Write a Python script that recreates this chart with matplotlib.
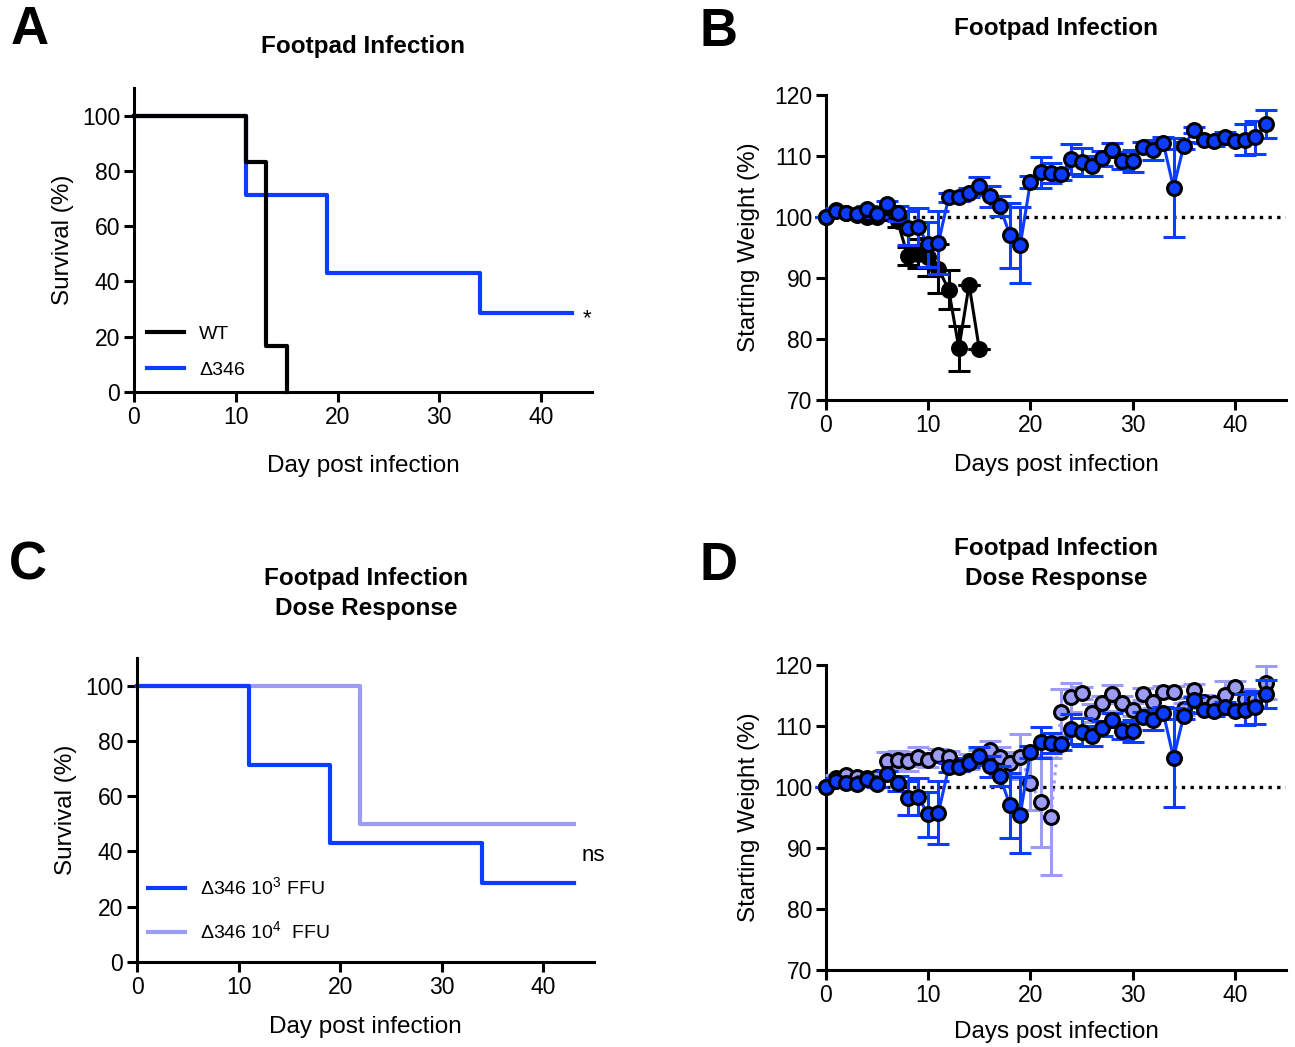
import matplotlib
matplotlib.use("Agg")
import matplotlib.pyplot as plt
from matplotlib.lines import Line2D

plt.rcParams['font.family'] = ['Liberation Sans', 'DejaVu Sans']
plt.rcParams['mathtext.fontset'] = 'custom'
plt.rcParams['mathtext.rm'] = 'Liberation Sans'

BLUE = "#0b3cff"
LIGHT = "#9c9cf5"

# survival (Kaplan-Meier steps)
wt_surv_days = [0, 11, 13, 15]
wt_surv = [100, 83.3, 16.7, 0]
d346_surv_days = [0, 11, 19, 34, 43]
d346_surv = [100, 71.4, 42.9, 28.6, 28.6]
hi_surv_days = [0, 22, 43]
hi_surv = [100, 50, 50]

# weights (% of starting weight)
days = list(range(44))
d346_wt = [100.0, 101.0, 100.6, 100.5, 101.3, 100.5, 102.1, 100.6, 98.2, 98.4,
           95.5, 95.8, 103.2, 103.2, 104.0, 105.1, 103.4, 101.8, 97.0, 95.4,
           105.8, 107.3, 107.2, 107.0, 109.5, 109.0, 108.4, 109.6, 111.0, 109.2,
           109.2, 111.5, 111.0, 112.1, 104.8, 111.7, 114.2, 112.7, 112.5, 113.1,
           112.5, 112.7, 113.1, 115.2]
d346_err = [0, 0.5, 0.4, 0.4, 0.5, 0.5, 0.6, 1.2, 2.8, 3.0,
            3.7, 5.2, 0.8, 0.6, 0.8, 1.5, 1.7, 1.7, 5.3, 6.3,
            1.0, 2.5, 1.7, 1.0, 2.4, 2.3, 1.6, 1.2, 1.2, 1.4,
            1.8, 0.8, 1.6, 1.0, 8.1, 0.6, 0.5, 0.5, 0.8, 0.9,
            0.6, 2.6, 2.7, 2.3]
wt_days = list(range(16))
wt_wt = [100.0, 101.1, 100.6, 100.3, 100.0, 100.0, 101.0, 99.3, 93.6, 94.0,
         93.5, 91.5, 88.1, 78.5, 88.9, 78.3]
wt_err = [0, 0.4, 0.4, 0.4, 0.5, 0.5, 0.5, 1.0, 1.5, 2.4, 3.1, 4.0, 3.2, 3.7, 0, 0]
hi_wt = [100.0, 101.5, 101.9, 101.7, 101.5, 101.7, 104.2, 104.4, 104.2, 105.0,
         104.4, 105.2, 104.9, 103.6, 104.2, 104.8, 106.1, 105.0, 103.9, 105.0,
         100.7, 97.6, 95.1, 112.3, 114.7, 115.4, 112.1, 113.7, 115.2, 113.7,
         112.7, 115.2, 114.0, 115.6, 115.6, 112.8, 115.9, 114.0, 113.7, 115.1,
         116.4, 114.5, 114.5, 117.1]
hi_err = [0, 0.5, 0.6, 0.5, 0.5, 0.6, 1.5, 1.5, 1.5, 1.5,
          1.2, 1.0, 1.0, 1.0, 1.2, 1.2, 1.5, 1.5, 1.8, 3.7,
          4.5, 7.4, 9.6, 3.8, 2.4, 1.0, 1.5, 1.2, 1.5, 1.2,
          1.0, 1.0, 1.0, 1.0, 1.0, 1.0, 1.0, 1.0, 1.0, 2.3,
          1.0, 1.5, 1.2, 2.7]

W, H = 1295, 1047
fig = plt.figure(figsize=(W / 100, H / 100), dpi=100)


def add_ax(x0, x1, ytop, ybot):
    return fig.add_axes([x0 / W, 1 - ybot / H, (x1 - x0) / W, (ybot - ytop) / H])


def style(ax, xlabel, ylabel, xpad, ypad):
    for s in ['top', 'right']:
        ax.spines[s].set_visible(False)
    for s in ['left', 'bottom']:
        ax.spines[s].set_linewidth(2.2)
    ax.tick_params(direction='out', length=7, width=2.2, labelsize=16.5, pad=3)
    ax.set_xlim(0, 45)
    ax.set_xticks([0, 10, 20, 30, 40])
    ax.set_xlabel(xlabel, fontsize=17.5, labelpad=xpad)
    ax.set_ylabel(ylabel, fontsize=17.5, labelpad=ypad)


def weight(ax, x, y, e, col, ls='-', z=3):
    ax.errorbar(x, y, yerr=e, color=col, ls=ls, lw=2.2, marker='o', ms=10,
                mfc=col, mec='black', mew=2.2, ecolor=col, elinewidth=2.2,
                capsize=8, capthick=2.2, clip_on=False, zorder=z)


def tit(x, y, s):
    fig.text(x / W, 1 - y / H, s, ha='center', va='center', fontsize=17.5, fontweight='bold')


def letter(x, y, s):
    fig.text(x / W, 1 - y / H, s, ha='center', va='center', fontsize=38, fontweight='bold')


# A
axA = add_ax(134, 592, 88, 392)
axA.step(d346_surv_days, d346_surv, where='post', color=BLUE, lw=3, clip_on=False)
axA.step(wt_surv_days, wt_surv, where='post', color='black', lw=3, clip_on=False)
axA.set_ylim(0, 110)
axA.set_yticks(range(0, 101, 20))
style(axA, 'Day post infection', 'Survival (%)', 19, 6)
axA.legend([Line2D([], [], color='black', lw=3), Line2D([], [], color=BLUE, lw=3)],
           ['WT', 'Δ346'], loc='lower left', bbox_to_anchor=(0.028, 0.043),
           frameon=False, fontsize=14, handlelength=1.9, handletextpad=0.8,
           labelspacing=0.96, borderpad=0, borderaxespad=0)
axA.text(44.1, 26.5, '*', fontsize=16, va='center', ha='left')
tit(363, 46, 'Footpad Infection')
letter(30, 30, 'A')

# B
axB = add_ax(826, 1286, 95, 400)
axB.axhline(100, color='black', ls=(0, (1, 1.6)), lw=2.4, zorder=1)
weight(axB, wt_days, wt_wt, wt_err, 'black', z=3)
weight(axB, days, d346_wt, d346_err, BLUE, z=4)
axB.set_ylim(70, 120)
axB.set_yticks(range(70, 121, 10))
style(axB, 'Days post infection', 'Starting Weight (%)', 12, 10)
tit(1056, 29, 'Footpad Infection')
letter(718, 32, 'B')

# C
axC = add_ax(137, 594, 658, 962)
axC.step(hi_surv_days, hi_surv, where='post', color=LIGHT, lw=3, clip_on=False)
axC.step(d346_surv_days, d346_surv, where='post', color=BLUE, lw=3, clip_on=False)
axC.set_ylim(0, 110)
axC.set_yticks(range(0, 101, 20))
style(axC, 'Day post infection', 'Survival (%)', 12, 6)
axC.legend([Line2D([], [], color=BLUE, lw=3), Line2D([], [], color=LIGHT, lw=3)],
           ['Δ346 10$^{\\mathregular{3}}$ FFU', 'Δ346 10$^{\\mathregular{4}}$  FFU'],
           loc='lower left', bbox_to_anchor=(0.024, 0.062),
           frameon=False, fontsize=14, handlelength=1.9, handletextpad=0.8,
           labelspacing=1.1, borderpad=0, borderaxespad=0)
axC.text(43.8, 38.5, 'ns', fontsize=16, va='center', ha='left')
tit(366, 579, 'Footpad Infection')
tit(366, 609, 'Dose Response')
letter(28, 566, 'C')

# D
axD = add_ax(826, 1286, 665, 970)
axD.axhline(100, color='black', ls=(0, (1, 1.6)), lw=2.4, zorder=1)
weight(axD, days, hi_wt, hi_err, LIGHT, ls=':', z=3)
weight(axD, days, d346_wt, d346_err, BLUE, z=4)
axD.set_ylim(70, 120)
axD.set_yticks(range(70, 121, 10))
style(axD, 'Days post infection', 'Starting Weight (%)', 10, 10)
tit(1056, 549, 'Footpad Infection')
tit(1056, 579, 'Dose Response')
letter(718, 566, 'D')

fig.savefig('out.png', dpi=100)
